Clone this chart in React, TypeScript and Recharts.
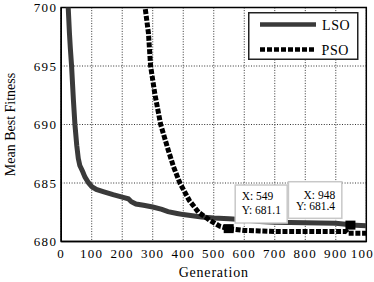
import React from 'react';
import { LineChart, Line, XAxis, YAxis, CartesianGrid, ReferenceArea, ReferenceDot, Label } from 'recharts';

const FONT = '"Liberation Serif", "Times New Roman", serif';

const xTicks = [0, 100, 200, 300, 400, 500, 600, 700, 800, 900, 1000];
const yTicks = [680, 685, 690, 695, 700];

// LSO mean best fitness by generation
const lsoGen = [20, 23, 27, 30, 34, 40, 45, 51, 56, 61, 70, 78, 90, 100, 115, 140, 170, 200, 220, 230, 245, 270, 300, 330, 350, 380, 400, 430, 460, 500, 550, 600, 650, 700, 800, 900, 940, 948, 1000];
const lsoFit = [702.5, 700, 697.8, 696.5, 695, 692.1, 690, 688.2, 687.1, 686.5, 686, 685.5, 685, 684.7, 684.45, 684.25, 684.0, 683.8, 683.65, 683.4, 683.2, 683.1, 682.95, 682.75, 682.55, 682.4, 682.3, 682.2, 682.1, 682.0, 681.95, 681.85, 681.7, 681.65, 681.6, 681.55, 681.45, 681.4, 681.35];

// PSO mean best fitness by generation
const psoGen = [273, 275, 286, 293, 307, 326, 351, 368, 389, 420, 450, 488, 520, 549, 600, 650, 700, 935, 940, 1000];
const psoFit = [701, 700, 697.8, 695, 692.6, 690, 687.8, 686.4, 685, 683.5, 682.5, 681.8, 681.3, 681.1, 680.95, 680.9, 680.85, 680.85, 680.7, 680.7];

// data tips
const tipA = { gen: 549, fit: 681.1 };
const tipB = { gen: 948, fit: 681.4 };

const seriesNames = ['LSO', 'PSO'];

const lso = lsoGen.map((g, i) => ({ gen: g, fit: lsoFit[i] }));
const pso = psoGen.map((g, i) => ({ gen: g, fit: psoFit[i] }));

const tipText = { fontFamily: FONT, fontSize: 11.5, fill: '#000' };

const TipRight = (props: any) => {
  const { cx, cy } = props;
  return (
    <g>
      <rect x={cx + 6.5} y={cy - 43.6} width={52} height={38} fill="#fff" stroke="#c8c8c8" strokeWidth={1.5} />
      <text x={cx + 13} y={cy - 28.6} {...tipText}>{`X: ${tipA.gen}`}</text>
      <text x={cx + 13} y={cy - 14.6} {...tipText}>{`Y: ${tipA.fit.toFixed(1)}`}</text>
      <rect x={cx - 5} y={cy - 4.5} width={10} height={9} fill="#000" />
    </g>
  );
};

const TipLeft = (props: any) => {
  const { cx, cy } = props;
  return (
    <g>
      <rect x={cx - 62} y={cy - 43.4} width={53.4} height={36.6} fill="#fff" stroke="#c8c8c8" strokeWidth={1.5} />
      <text x={cx - 15.3} y={cy - 26.4} textAnchor="end" {...tipText}>{`X: ${tipB.gen}`}</text>
      <text x={cx - 15.3} y={cy - 14.7} textAnchor="end" {...tipText}>{`Y: ${tipB.fit.toFixed(1)}`}</text>
      <rect x={cx - 5} y={cy - 4.5} width={10} height={9} fill="#000" />
    </g>
  );
};

const LegendBox = () => (
  <svg width={112} height={50} style={{ display: 'block' }}>
    <rect x={0.75} y={0.75} width={109} height={46.5} fill="#fff" stroke="#222" strokeWidth={1.5} />
    <line x1={12} x2={68} y1={12.5} y2={12.5} stroke="#3a3a3a" strokeWidth={4.5} />
    <text x={74} y={17.5} fontFamily={FONT} fontSize={14} letterSpacing={0.6} fill="#000">{seriesNames[0]}</text>
    <line x1={12} x2={68} y1={37.5} y2={37.5} stroke="#000" strokeWidth={4.5} strokeDasharray="5 2" />
    <text x={73.5} y={42.5} fontFamily={FONT} fontSize={14} letterSpacing={0.6} fill="#000">{seriesNames[1]}</text>
  </svg>
);

const YTitle = (props: any) => {
  const vb = props.viewBox || { x: 0, y: 0, width: 0, height: 0 };
  const x = vb.x + 15;
  const y = vb.y + vb.height / 2;
  return (
    <text x={x} y={y} transform={`rotate(-90 ${x} ${y})`} textAnchor="middle" fontFamily={FONT} fontSize={14} fill="#000">
      Mean Best Fitness
    </text>
  );
};

const tickStyle = { fill: '#000', fontSize: 13, fontFamily: FONT, letterSpacing: 1.3 };

export default function App() {
  return (
    <div style={{ position: 'absolute', left: 0, top: 0, width: 374, height: 282, background: '#fff' }}>
      <LineChart width={374} height={282} margin={{ top: 7.5, right: 7.7, bottom: 0, left: 0 }}>
        <CartesianGrid stroke="#333" strokeWidth={1} strokeDasharray="1 1.6" />
        <XAxis
          type="number"
          dataKey="gen"
          domain={[0, 1000]}
          ticks={xTicks}
          interval={0}
          allowDataOverflow
          height={40.5}
          tickSize={5}
          tickLine={false}
          axisLine={{ stroke: '#000', strokeWidth: 1.5 }}
          tick={tickStyle}
        >
          <Label value="Generation" position="insideBottom" offset={5.5} fill="#000" fontSize={14} fontFamily={FONT} letterSpacing={0.8} />
        </XAxis>
        <YAxis
          type="number"
          domain={[680, 700]}
          ticks={yTicks}
          interval={0}
          allowDataOverflow
          width={61.2}
          tickSize={2}
          tickLine={false}
          axisLine={{ stroke: '#000', strokeWidth: 1.5 }}
          tick={tickStyle}
        >
          <Label content={<YTitle />} />
        </YAxis>
        <ReferenceArea x1={0} x2={1000} y1={680} y2={700} fill="none" stroke="#000" strokeWidth={1.5} />
        <Line data={lso} dataKey="fit" name={seriesNames[0]} type="linear" dot={false} stroke="#3a3a3a" strokeWidth={5} isAnimationActive={false} />
        <Line data={pso} dataKey="fit" name={seriesNames[1]} type="linear" dot={false} stroke="#000" strokeWidth={5} strokeDasharray="5 1.7" isAnimationActive={false} />
        <ReferenceDot x={tipA.gen} y={tipA.fit} shape={<TipRight />} />
        <ReferenceDot x={tipB.gen} y={tipB.fit} shape={<TipLeft />} />
      </LineChart>
      <div style={{ position: 'absolute', left: 248, top: 12 }}>
        <LegendBox />
      </div>
    </div>
  );
}
